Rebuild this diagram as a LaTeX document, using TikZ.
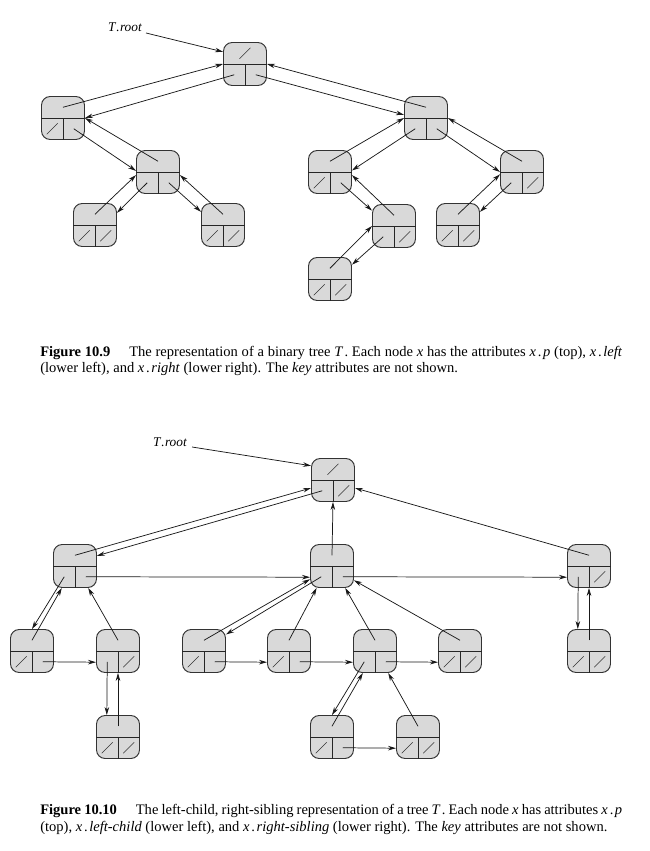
\documentclass[tikz,border=0pt]{standalone}
\usepackage{fontspec}
\setmainfont{Liberation Serif}
\usetikzlibrary{arrows.meta,calc}

% one object of a linked tree: top cell (parent), lower-left and lower-right cells
\newcommand{\objnode}[3]{%
  \node[rec] (#1) at (#2,#3) {};
  \draw[div] (#1.west) -- (#1.east) (#1.center) -- (#1.south);
  \coordinate (#1-t) at ($(#1.center)+(0,-10.75)$);
  \coordinate (#1-l) at ($(#1.center)+(-10.75,10.75)$);
  \coordinate (#1-r) at ($(#1.center)+(10.75,10.75)$);
}
% NIL slash drawn in a cell
\newcommand{\nilat}[1]{\draw[nil] ($(#1)+(-5.5,5.5)$) -- ($(#1)+(5.5,-5.5)$);}
\newcommand{\dotp}{\kern1.4pt.\kern1.2pt}
% a full-width caption line, justified
\newcommand{\fullline}[1]{\makebox[436.5pt][s]{#1}}

\begin{document}
\begin{tikzpicture}[x=0.75pt,y=-0.75pt,
  rec/.style={draw=black!80, fill=black!15, rounded corners=6.5pt,
    minimum width=32.25pt, minimum height=32.25pt, inner sep=0pt, line width=0.7pt},
  div/.style={draw=black!85, line width=0.7pt},
  nil/.style={draw=black!80, line width=0.5pt},
  ptr/.style={draw=black!90, line width=0.55pt, -{Stealth[length=6pt,width=3.4pt]}},
  lbl/.style={font=\itshape\fontsize{10}{12}\selectfont, inner sep=0pt},
  captxt/.style={anchor=base west, inner sep=0pt, font=\fontsize{10.9}{13}\selectfont}
]
\fill[white] (0,0) rectangle (650,851);
\useasboundingbox (0,0) rectangle (650,851);

%% ---------------- binary tree ----------------
\objnode{r1}{245}{64}
\objnode{a}{63}{118}
\objnode{b}{426}{118}
\objnode{c}{158}{172}
\objnode{cl}{95}{225}
\objnode{cr}{223}{225}
\objnode{d}{330}{172}
\objnode{e}{522}{172}
\objnode{f}{394}{226}
\objnode{g}{458}{225}
\objnode{h}{330}{279}

\nilat{r1-t}
\nilat{a-l}
\nilat{cl-l}\nilat{cl-r}
\nilat{cr-l}\nilat{cr-r}
\nilat{d-l}
\nilat{e-r}
\nilat{f-r}
\nilat{g-l}\nilat{g-r}
\nilat{h-l}\nilat{h-r}

\node[lbl] (tr1) at (125,27) {T\kern0.5pt.\kern0.3pt root};
\draw[ptr] ($(tr1.east)+(4,6)$) -- (r1.151);

\draw[ptr] (r1-l) -- (a.east);
\draw[ptr] (a-t) -- (r1.west);
\draw[ptr] (r1-r) -- (b.172);
\draw[ptr] (b-t) -- (r1.east);
\draw[ptr] (a-r) -- (c.177);
\draw[ptr] (c-t) -- (a.east);
\draw[ptr] (c-l) -- (cl.29);
\draw[ptr] (cl-t) -- (c.188);
\draw[ptr] (c-r) -- (cr.149);
\draw[ptr] (cr-t) -- (c.-8);
\draw[ptr] (b-l) -- (d.4);
\draw[ptr] (d-t) -- (b.west);
\draw[ptr] (b-r) -- (e.west);
\draw[ptr] (e-t) -- (b.east);
\draw[ptr] (d-r) -- (f.145);
\draw[ptr] (f-t) -- (d.-8);
\draw[ptr] (e-l) -- (g.31);
\draw[ptr] (g-t) -- (e.186);
\draw[ptr] (f-l) -- (h.33);
\draw[ptr] (h-t) -- (f.west);

\node[captxt] (cap1a) at (40,356) {\fullline{\textbf{Figure 10.9}\hspace{1.3em}The representation of a binary tree \textit{T}\kern1pt. Each node \textit{x} has the attributes \textit{x}\dotp\textit{p} (top), \textit{x}\dotp\textit{left}}};
\node[captxt] (cap1b) at (40,372) {(lower left), and \textit{x}\dotp\textit{right} (lower right). The \textit{key} attributes are not shown.};

%% ---------------- left-child, right-sibling tree ----------------
\objnode{r2}{333}{480}
\objnode{p}{75}{566}
\objnode{m}{332}{566}
\objnode{n}{589}{566}
\objnode{qa}{32}{651}
\objnode{qb}{118}{651}
\objnode{rr}{118}{737}
\objnode{sa}{204}{651}
\objnode{sb}{289}{651}
\objnode{sc}{375}{651}
\objnode{sd}{460}{651}
\objnode{ua}{332}{737}
\objnode{ub}{418}{737}
\objnode{v}{589}{651}

\nilat{r2-t}\nilat{r2-r}
\nilat{n-r}
\nilat{qa-l}
\nilat{qb-r}
\nilat{rr-l}\nilat{rr-r}
\nilat{sa-l}
\nilat{sb-l}
\nilat{sd-l}\nilat{sd-r}
\nilat{ua-l}
\nilat{ub-l}\nilat{ub-r}
\nilat{v-l}\nilat{v-r}

\node[lbl] (tr2) at (170,442) {T\kern0.5pt.\kern0.3pt root};
\draw[ptr] ($(tr2.east)+(5,5)$) -- (r2.147);

\draw[ptr] (r2-l) -- (p.25);
\draw[ptr] (p-t) -- (r2.200);
\draw[ptr] (m-t) -- (r2.south);
\draw[ptr] (n-t) -- (r2.-20);
\draw[ptr] (p-r) -- (m.207);
\draw[ptr] (m-r) -- (n.207);
\draw[ptr] (n-l) -- (v.117);
\draw[ptr] (v-t) -- (n.south);

\draw[ptr] (p-l) -- (qa.north);
\draw[ptr] (qa-t) -- (p.-121);
\draw[ptr] (qa-r) -- (qb.207);
\draw[ptr] (qb-t) -- (p.-59);
\draw[ptr] (qb-l) -- (rr.117);
\draw[ptr] (rr-t) -- (qb.south);

\draw[ptr] (m-l) -- (sa.37);
\draw[ptr] (sa-t) -- (m.211);
\draw[ptr] (sa-r) -- (sb.207);
\draw[ptr] (sb-t) -- (m.-125);
\draw[ptr] (sb-r) -- (sc.207);
\draw[ptr] (sc-t) -- (m.-59);
\draw[ptr] (sc-r) -- (sd.207);
\draw[ptr] (sd-t) -- (m.-33);
\draw[ptr] (sc-l) -- (ua.north);
\draw[ptr] (ua-t) -- (sc.-119);
\draw[ptr] (ua-r) -- (ub.207);
\draw[ptr] (ub-t) -- (sc.-59);

\node[captxt] (cap2a) at (40,814) {\fullline{\textbf{Figure 10.10}\hspace{1.3em}The left-child, right-sibling representation of a tree \textit{T}\kern1pt. Each node \textit{x} has attributes \textit{x}\dotp\textit{p}}};
\node[captxt] (cap2b) at (40,831) {(top), \textit{x}\dotp\textit{left-child} (lower left), and \textit{x}\dotp\textit{right-sibling} (lower right). The \textit{key} attributes are not shown.};
\end{tikzpicture}
\end{document}
